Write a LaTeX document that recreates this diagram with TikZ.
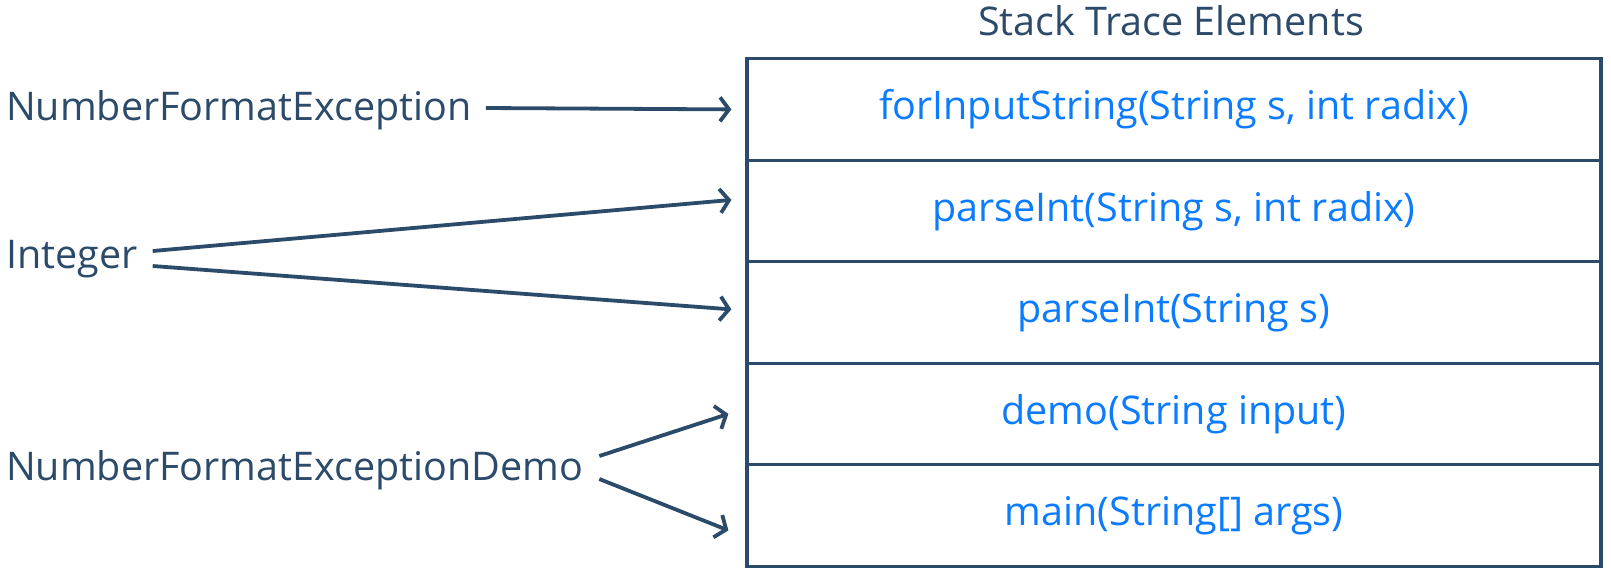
\documentclass[tikz,border=0pt]{standalone}
\usepackage{fontspec}
\setmainfont{Open Sans}
\usetikzlibrary{arrows.meta}
\definecolor{navy}{HTML}{2C4A6A}
\definecolor{linkblue}{HTML}{0B7BFF}

\begin{document}
\begin{tikzpicture}[
		x=1pt, y=-1pt,
		frame/.style	={ draw=navy, line width=3.2pt,
			minimum width=854pt, minimum height=101.5pt, inner sep=0pt,
			text=linkblue, font=\fontsize{39.5}{46}\selectfont,
		},
		caller/.style	={ anchor=west, inner sep=0pt,
			text=navy, font=\fontsize{39.5}{46}\selectfont,
		},
		call/.style		={ draw=navy, line width=3.8pt,
			-{Straight Barb[length=9pt, width=24pt, line width=3.8pt]},
		},
	]
	\useasboundingbox (0,0) rectangle (1611,574);

	% title
	\node [caller, anchor=center] (title) at (1171,21) {Stack Trace Elements};

	% draw stack rows
	\foreach \n/\y/\txt in {1/109.4/{forInputString(String s, int radix)},
			2/210.9/{parseInt(String s, int radix)},
			3/312.4/{parseInt(String s)},
			4/413.9/{demo(String input)},
			5/515.4/{main(String[] args)}}
		\node [frame] (row_\n) at (1174,\y) {\txt};

	% draw classes
	\node [caller] (nfe) at (6,110) {NumberFormatException};
	\node [caller] (integer) at (6,259) {Integer};
	\node [caller] (demo) at (6,470) {NumberFormatExceptionDemo};

	% draw calls
	\draw [call] ([xshift=14pt, yshift=2pt]nfe.east) -- ([xshift=-14pt]row_1.west);
	\draw [call] ([xshift=15pt, yshift=8pt]integer.east) -- ([xshift=-14pt, yshift=11pt]row_2.west);
	\draw [call] ([xshift=15pt, yshift=-7pt]integer.east) -- ([xshift=-14pt, yshift=3pt]row_3.west);
	\draw [call] ([xshift=16pt, yshift=14pt]demo.east) -- ([xshift=-17pt]row_4.west);
	\draw [call] ([xshift=16pt, yshift=-9pt]demo.east) -- ([xshift=-17pt, yshift=-15pt]row_5.west);

\end{tikzpicture}
\end{document}
